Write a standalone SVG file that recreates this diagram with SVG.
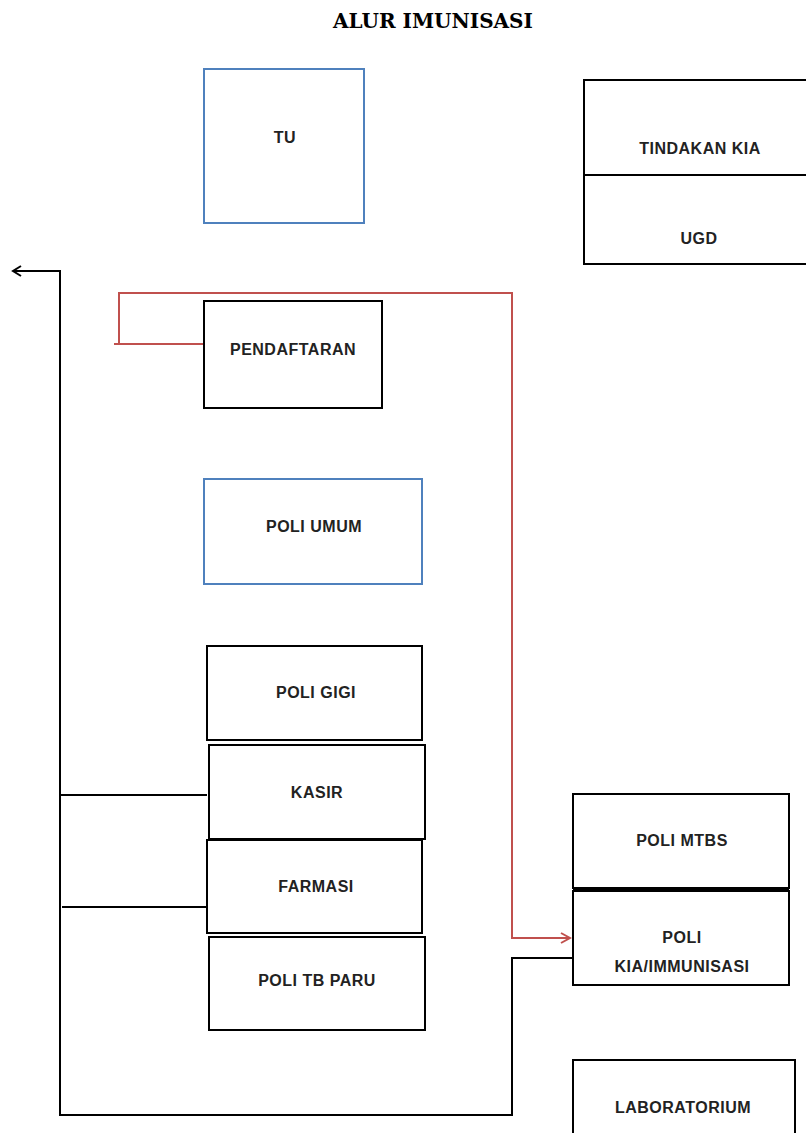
<svg xmlns="http://www.w3.org/2000/svg" width="806" height="1133" viewBox="0 0 806 1133">
<defs>
<style>
.box{fill:#fff;stroke:#000;stroke-width:2}
.blue{fill:#fff;stroke:#4f81bd;stroke-width:2}
.lbl{font-family:"Liberation Sans",Arial,sans-serif;font-weight:bold;font-size:16px;letter-spacing:0.5px;fill:#222;text-anchor:middle}
.title{font-family:"DejaVu Serif","Liberation Serif",serif;font-weight:bold;font-size:20px;fill:#000;text-anchor:middle}
.blk{fill:none;stroke:#000;stroke-width:2}
.red{fill:none;stroke:#c0504d;stroke-width:2}
</style>
<marker id="ab" markerWidth="14" markerHeight="12" refX="12" refY="6" orient="auto" markerUnits="userSpaceOnUse">
<path d="M4,1 L12,6 L4,11" fill="none" stroke="#000" stroke-width="2"/>
</marker>
<marker id="ar" markerWidth="14" markerHeight="12" refX="12" refY="6" orient="auto" markerUnits="userSpaceOnUse">
<path d="M3,1 L12,6 L3,11" fill="none" stroke="#c0504d" stroke-width="2"/>
</marker>
</defs>
<rect width="806" height="1133" fill="#fff"/>
<text class="title" x="433" y="28">ALUR IMUNISASI</text>
<g id="connectors">
<path class="blk" d="M573,958 H512 V1115 H60 V271 H13" marker-end="url(#ab)"/>
<path class="blk" d="M60,795 H207"/>
<path class="blk" d="M62,907 H207"/>
<path class="red" d="M204,344 H114 M119,344 V293 H512 V938 H570" marker-end="url(#ar)"/>
</g>
<g id="tu"><rect class="blue" x="204" y="69" width="160" height="154"/><text class="lbl" x="285" y="143">TU</text></g>
<g id="tindakan-kia"><rect class="box" x="584" y="80" width="224" height="95"/><text class="lbl" x="700" y="154">TINDAKAN KIA</text></g>
<g id="ugd"><rect class="box" x="584" y="175" width="224" height="89"/><text class="lbl" x="699" y="244">UGD</text></g>
<g id="pendaftaran"><rect class="box" x="204" y="301" width="178" height="107"/><text class="lbl" x="293" y="355">PENDAFTARAN</text></g>
<g id="poli-umum"><rect class="blue" x="204" y="479" width="218" height="105"/><text class="lbl" x="314" y="532">POLI UMUM</text></g>
<g id="poli-gigi"><rect class="box" x="207" y="646" width="215" height="94"/><text class="lbl" x="316" y="698">POLI GIGI</text></g>
<g id="kasir"><rect class="box" x="209" y="745" width="216" height="94"/><text class="lbl" x="317" y="798">KASIR</text></g>
<g id="farmasi"><rect class="box" x="207" y="840" width="215" height="93"/><text class="lbl" x="316" y="892">FARMASI</text></g>
<g id="poli-tb-paru"><rect class="box" x="209" y="937" width="216" height="93"/><text class="lbl" x="317" y="986">POLI TB PARU</text></g>
<g id="poli-mtbs"><rect class="box" x="573" y="794" width="216" height="94"/><text class="lbl" x="682" y="846">POLI MTBS</text></g>
<g id="poli-kia"><rect class="box" x="573" y="891" width="216" height="94"/><rect x="573" y="887" width="216" height="3" fill="#000"/><text class="lbl" x="682" y="943">POLI</text><text class="lbl" x="682" y="972">KIA/IMMUNISASI</text></g>
<g id="laboratorium"><rect class="box" x="573" y="1060" width="222" height="90"/><text class="lbl" x="683" y="1113">LABORATORIUM</text></g>
</svg>
